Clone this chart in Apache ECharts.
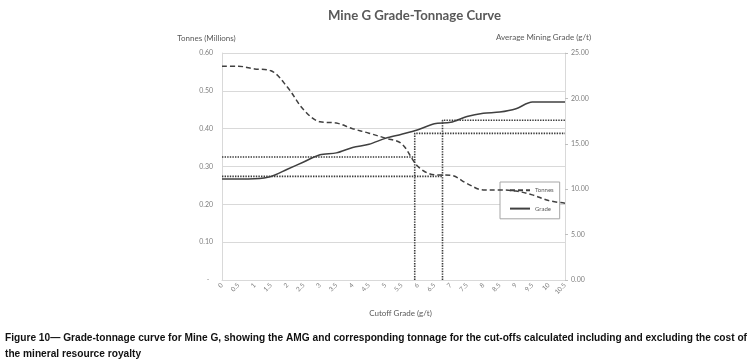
<!DOCTYPE html>
<html><head><meta charset="utf-8">
<script src="https://cdn.jsdelivr.net/npm/echarts@6/dist/echarts.min.js"></script>
<style>html,body{margin:0;padding:0;background:#fff}#c{width:751px;height:363px}</style>
</head><body><div id="c"></div>
<script>
// ---- data ----
const categories = ['0','0.5','1','1.5','2','2.5','3','3.5','4','4.5','5','5.5','6','6.5','7','7.5','8','8.5','9','9.5','10','10.5'];
const tonnes = [0.565,0.565,0.558,0.553,0.51,0.45,0.418,0.415,0.40,0.388,0.375,0.36,0.30,0.278,0.277,0.255,0.238,0.238,0.235,0.225,0.21,0.203];
const grade  = [11.12,11.12,11.15,11.4,12.2,13.0,13.8,14.0,14.6,14.95,15.6,16.05,16.55,17.2,17.37,18.0,18.36,18.5,18.87,19.6,19.6,19.6];
const cutoffs = [5.9, 6.75];
const cutoffTonnes = [0.325, 0.274];
const cutoffGrade = [16.15, 17.6];
const xMaxGrade = 10.5;
const seriesNames = ['Tonnes','Grade'];
const titleText = 'Mine G Grade-Tonnage Curve';
const captionLines = [
  'Figure 10\u2014 Grade-tonnage curve for Mine G, showing the AMG and corresponding tonnage for the cut-offs calculated including and excluding the cost of',
  'the mineral resource royalty'
];

const FONT = 'Lato, "Open Sans", sans-serif';
const chart = echarts.init(document.getElementById('c'), null, {renderer:'canvas'});

// caption horizontal compression (condensed bold font look)
const capFont = 'bold 11.5px "Liberation Sans", Arial, sans-serif';
const cv = document.createElement('canvas').getContext('2d');
cv.font = capFont;
const capW = cv.measureText(captionLines[0]).width;
const capScale = 742 / capW;

const refSeries = [];
cutoffs.forEach((c, k) => {
  refSeries.push({
    type:'line', name:'refT'+k, xAxisIndex:1, yAxisIndex:0, symbol:'none', silent:true,
    data:[[0, cutoffTonnes[k]], [c, cutoffTonnes[k]]],
    lineStyle:{color:'#3a3a3a', width:1.6, type:[1.4,1.2]}, z:3
  });
  refSeries.push({
    type:'line', name:'refG'+k, xAxisIndex:1, yAxisIndex:1, symbol:'none', silent:true,
    data:[[c, 0], [c, cutoffGrade[k]], [xMaxGrade, cutoffGrade[k]]],
    lineStyle:{color:'#3a3a3a', width:1.6, type:[1.4,1.2]}, z:3
  });
});

const option = {
  backgroundColor:'#fff',
  animation:false,
  textStyle:{fontFamily:FONT},
  title:{
    text:titleText, left:323, top:4,
    textStyle:{fontFamily:FONT, fontSize:13.2, fontWeight:'bold', color:'#595959'}
  },
  grid:{left:222, right:186, top:53, bottom:83, containLabel:false},
  legend:{
    data:seriesNames, orient:'vertical', left:500, top:182,
    backgroundColor:'#fff', borderColor:'#a6a6a6', borderWidth:1,
    padding:[5,6,7,9], itemGap:12, itemWidth:20, itemHeight:8,
    itemStyle:{opacity:0},
    textStyle:{fontFamily:FONT, fontSize:6, color:'#595959'}
  },
  xAxis:[{
    type:'category', data:categories, boundaryGap:false,
    name:'Cutoff Grade (g/t)', nameLocation:'middle', nameGap:29,
    nameTextStyle:{fontFamily:FONT, fontSize:8, color:'#595959', padding:[0,0,0,14]},
    axisLine:{show:true, lineStyle:{color:'#d9d9d9'}},
    axisTick:{show:false},
    axisLabel:{rotate:45, fontSize:6.5, color:'#7f7f7f', margin:4, interval:0},
    splitLine:{show:false}
  },{
    type:'value', min:0, max:xMaxGrade, show:false
  }],
  yAxis:[{
    type:'value', min:0, max:0.6, interval:0.1, position:'left',
    name:'Tonnes (Millions)', nameLocation:'end', nameGap:11,
    nameTextStyle:{fontFamily:FONT, fontSize:8, color:'#595959', align:'center', padding:[0,31,0,0]},
    axisLine:{show:true, lineStyle:{color:'#d9d9d9'}},
    axisTick:{show:false},
    axisLabel:{fontSize:7, color:'#7f7f7f', margin:9, formatter:v => v === 0 ? '-  ' : v.toFixed(2)},
    splitLine:{show:true, lineStyle:{color:'#d9d9d9', width:1}}
  },{
    type:'value', min:0, max:25, interval:5, position:'right',
    name:'Average Mining Grade (g/t)', nameLocation:'end', nameGap:12,
    nameTextStyle:{fontFamily:FONT, fontSize:8, color:'#595959', align:'center', padding:[0,43,0,0]},
    axisLine:{show:true, lineStyle:{color:'#d9d9d9'}},
    axisTick:{show:true, length:3, lineStyle:{color:'#bfbfbf'}},
    axisLabel:{fontSize:7, color:'#7f7f7f', margin:6, formatter:v => v.toFixed(2)},
    splitLine:{show:false}
  }],
  series:[
    {type:'line', name:seriesNames[0], yAxisIndex:0, data:tonnes, symbol:'none', smooth:0.35,
     lineStyle:{color:'#404040', width:1.5, type:[5,3]}, itemStyle:{color:'#404040'}, z:4},
    {type:'line', name:seriesNames[1], yAxisIndex:1, data:grade, symbol:'none', smooth:0.3,
     lineStyle:{color:'#404040', width:1.5, type:'solid'}, itemStyle:{color:'#404040'}, z:4},
    ...refSeries
  ],
  graphic:[
    {type:'text', left:5, top:332, scaleX:capScale, originX:0,
     style:{text:captionLines[0], font:capFont, fill:'#111'}},
    {type:'text', left:5, top:348, scaleX:capScale, originX:0,
     style:{text:captionLines[1], font:capFont, fill:'#111'}}
  ]
};
chart.setOption(option);
</script></body></html>
